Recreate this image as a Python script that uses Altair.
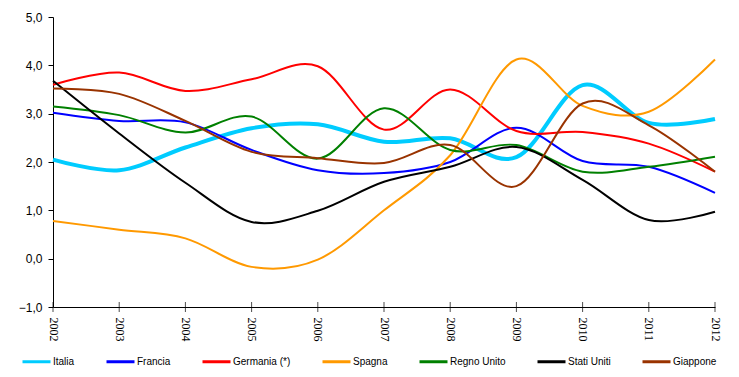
import altair as alt
import pandas as pd

years = list(range(2002, 2013))
serie_nomi = ["Italia", "Francia", "Germania (*)", "Spagna", "Regno Unito", "Stati Uniti", "Giappone"]
colori = ["#00CCFF", "#0000FF", "#FF0000", "#FF9900", "#008000", "#000000", "#993300"]

italia = [2.05, 1.83, 2.30, 2.70, 2.78, 2.42, 2.49, 2.10, 3.59, 2.81, 2.89]
francia = [3.02, 2.85, 2.82, 2.25, 1.83, 1.77, 2.00, 2.71, 2.02, 1.90, 1.36]
germania = [3.60, 3.85, 3.47, 3.71, 3.98, 2.67, 3.50, 2.64, 2.62, 2.38, 1.80]
spagna = [0.78, 0.60, 0.42, -0.17, -0.02, 1.00, 2.14, 4.12, 3.16, 3.04, 4.12]
regno_unito = [3.15, 2.97, 2.61, 2.94, 2.07, 3.11, 2.25, 2.35, 1.80, 1.90, 2.11]
stati_uniti = [3.68, 2.59, 1.57, 0.76, 0.99, 1.59, 1.90, 2.31, 1.63, 0.80, 0.97]
giappone = [3.52, 3.41, 2.85, 2.21, 2.08, 1.98, 2.35, 1.50, 3.21, 2.76, 1.80]

y_ticks = [-1, 0, 1, 2, 3, 4, 5]

valori = [italia, francia, germania, spagna, regno_unito, stati_uniti, giappone]
rows = []
for nome, vals in zip(serie_nomi, valori):
    for anno, v in zip(years, vals):
        rows.append({"serie": nome, "anno": anno, "valore": v})
df = pd.DataFrame(rows)

FONT = "Liberation Sans"

x_enc = alt.X(
    "anno:Q",
    scale=alt.Scale(domain=[years[0], years[-1]], nice=False, zero=False),
    axis=alt.Axis(
        values=years, format="d", labelAngle=90, tickSize=0, labelPadding=10,
        labelFont="Liberation Sans Narrow", labelFontSize=12, labelColor="black",
        domainColor="black", grid=False, title=None, labelOverlap=False,
    ),
)
y_enc = alt.Y(
    "valore:Q",
    scale=alt.Scale(domain=[y_ticks[0], y_ticks[-1]], nice=False, zero=False),
    axis=alt.Axis(
        values=y_ticks, labelExpr="replace(format(datum.value, '.1f'), '.', ',')",
        tickSize=5, tickColor="black", labelPadding=6, labelFont=FONT, labelFontSize=12,
        labelColor="black", domainColor="black", grid=False, title=None,
    ),
)

lines = alt.Chart(df).mark_line(interpolate="cardinal").encode(
    x=x_enc,
    y=y_enc,
    color=alt.Color(
        "serie:N", title=None, sort=serie_nomi,
        scale=alt.Scale(domain=serie_nomi, range=colori),
    ),
    strokeWidth=alt.condition(alt.datum.serie == "Italia", alt.value(4), alt.value(2)),
)

ticks = alt.Chart(pd.DataFrame({"anno": years})).mark_tick(
    orient="vertical", color="black", thickness=1, size=10
).encode(
    x=alt.X("anno:Q"),
    y=alt.datum(-1),
)

chart = alt.layer(lines, ticks).properties(
    width=662,
    height=290,
    autosize=alt.AutoSizeParams(type="none"),
    padding={"left": 53, "top": 17, "right": 24, "bottom": 70},
).configure_view(stroke=None).configure_legend(
    orient="none",
    legendX=-32,
    legendY=329,
    direction="horizontal",
    columns=7,
    columnPadding=25,
    padding=0,
    symbolType="stroke",
    symbolSize=784,
    symbolStrokeWidth=3,
    labelOffset=1,
    labelFont=FONT,
    labelFontSize=10,
    labelColor="black",
)

chart.save("out.html", embed_options={"renderer": "svg", "actions": False})
